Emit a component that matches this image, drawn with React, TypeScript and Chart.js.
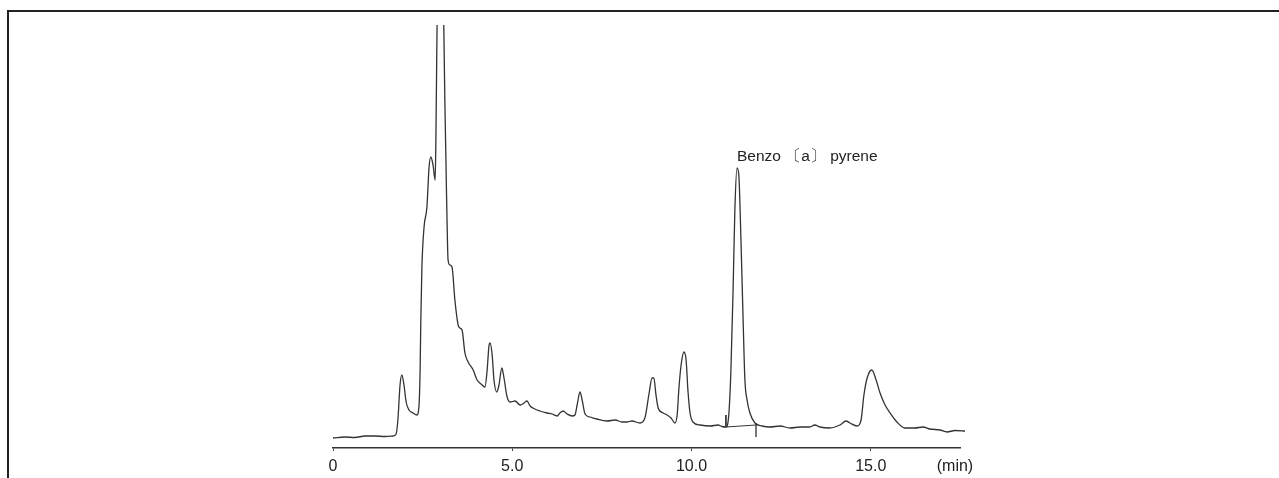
import { useEffect, useRef } from "react";
import { Chart, registerables } from "chart.js";

Chart.register(...registerables);

// Retention time (min) and detector signal (arbitrary units)
const timeMin = [
  0.0, 0.33, 0.61, 0.89, 1.17, 1.45, 1.67, 1.76, 1.81, 1.87, 1.92, 1.98, 2.04, 2.12, 2.23, 2.34,
  2.4, 2.43, 2.45, 2.48, 2.54, 2.62, 2.68, 2.73, 2.79, 2.85, 2.87, 2.91, 3.01, 3.08, 3.12, 3.17,
  3.21, 3.26, 3.32, 3.4, 3.49, 3.54, 3.6, 3.68, 3.77, 3.91, 4.02, 4.13, 4.24, 4.3, 4.35, 4.38,
  4.44, 4.49, 4.57, 4.63, 4.71, 4.77, 4.85, 4.94, 5.08, 5.22, 5.33, 5.41, 5.5, 5.63, 5.77, 5.97,
  6.11, 6.25, 6.33, 6.42, 6.53, 6.67, 6.75, 6.81, 6.89, 6.95, 7.03, 7.17, 7.36, 7.64, 7.87, 8.06,
  8.2, 8.34, 8.56, 8.7, 8.81, 8.9, 8.95, 9.01, 9.07, 9.21, 9.32, 9.43, 9.54, 9.6, 9.65, 9.71,
  9.79, 9.85, 9.9, 9.96, 10.04, 10.24, 10.52, 10.74, 10.85, 10.96, 11.04, 11.1, 11.16, 11.21, 11.27, 11.32,
  11.38, 11.44, 11.49, 11.55, 11.63, 11.77, 11.97, 12.19, 12.47, 12.75, 13.03, 13.3, 13.44, 13.58, 13.86, 14.14,
  14.31, 14.42, 14.62, 14.73, 14.81, 14.9, 15.03, 15.15, 15.26, 15.4, 15.54, 15.73, 15.95, 16.23, 16.46, 16.65,
  16.93, 17.13, 17.35, 17.63,
];
const signal = [
  10, 11, 10.5, 12, 12, 11.5, 12, 14, 28, 63, 73, 63, 46, 38, 35, 33,
  43, 78, 128, 181, 221, 241, 281, 291, 283, 268, 308, 448, 648, 448, 348, 248,
  188, 183, 181, 148, 123, 120, 118, 95, 86, 78, 68, 64, 61, 78, 102, 105,
  93, 68, 56, 63, 80, 70, 52, 46, 47, 43, 45, 47, 42, 39, 37, 35,
  34, 32, 35, 37, 34, 32, 33, 43, 56, 48, 34, 31, 29, 27, 28, 26,
  26, 27, 25, 30, 53, 70, 70, 53, 40, 35, 33, 30, 25, 33, 60, 83,
  96, 88, 58, 35, 26, 23, 22, 23, 21.5, 21, 33, 78, 158, 238, 280, 273,
  208, 128, 68, 48, 35, 25, 22, 21, 22, 20, 21, 21, 23, 21, 20, 23,
  27, 25, 22, 28, 53, 70, 78, 68, 55, 43, 35, 26, 20, 20, 21, 19,
  18, 16, 17.5, 17,
];

// Integration marks around the Benzo[a]pyrene peak
const markStartTime = [10.96, 10.96];
const markStartSignal = [33, 21];
const markBaseTime = [10.96, 11.8];
const markBaseSignal = [21, 23];
const markEndTime = [11.8, 11.8];
const markEndSignal = [25, 11];

const tickValues = [0, 5, 10, 15];
const tickLabels = ["0", "5.0", "10.0", "15.0"];
const unitLabel = "(min)";
const unitPosition = 17.35;

const peakLabel = "Benzo 〔a〕 pyrene";
const peakTime = 11.27;
const peakSignal = 280;

const FONT = '"Liberation Sans", Arial, Helvetica, sans-serif';

const toPoints = (xs: number[], ys: number[]) => xs.map((x, i) => ({ x, y: ys[i] }));

export default function App() {
  const canvasRef = useRef<HTMLCanvasElement | null>(null);

  useEffect(() => {
    const canvas = canvasRef.current;
    if (!canvas) return;

    const decor = {
      id: "decor",
      afterDraw(chart: any) {
        const ctx = chart.ctx as CanvasRenderingContext2D;
        ctx.save();
        ctx.strokeStyle = "#222";
        ctx.lineWidth = 2;
        ctx.beginPath();
        ctx.moveTo(8, 478);
        ctx.lineTo(8, 11);
        ctx.lineTo(1279, 11);
        ctx.stroke();
        const x = chart.scales.x.getPixelForValue(peakTime);
        const y = chart.scales.y.getPixelForValue(peakSignal);
        ctx.fillStyle = "#222";
        ctx.font = `15.5px ${FONT}`;
        ctx.textAlign = "left";
        ctx.textBaseline = "alphabetic";
        ctx.fillText(peakLabel, x, y - 7);
        ctx.restore();
      },
    };

    const lineStyle = {
      borderColor: "#333",
      borderWidth: 1.3,
      pointRadius: 0,
      tension: 0,
      fill: false,
    };

    const chart = new Chart(canvas, {
      type: "line",
      data: {
        datasets: [
          {
            ...lineStyle,
            cubicInterpolationMode: "monotone",
            label: "signal",
            data: toPoints(timeMin, signal),
            clip: { left: 5, top: 0, right: 8, bottom: 5 } as any,
          },
          { ...lineStyle, borderWidth: 1, label: "start", data: toPoints(markStartTime, markStartSignal) },
          { ...lineStyle, borderWidth: 1, label: "base", data: toPoints(markBaseTime, markBaseSignal) },
          { ...lineStyle, borderWidth: 1, borderColor: "#666", label: "end", data: toPoints(markEndTime, markEndSignal) },
        ],
      },
      options: {
        animation: false,
        responsive: false,
        devicePixelRatio: 1,
        layout: { padding: { left: 333, right: 319, top: 25, bottom: 4 } },
        plugins: { legend: { display: false }, tooltip: { enabled: false } },
        scales: {
          x: {
            type: "linear",
            min: 0,
            max: 17.49,
            afterBuildTicks: (axis: any) => {
              axis.ticks = [...tickValues, unitPosition].map((v) => ({ value: v }));
            },
            afterFit: (axis: any) => {
              axis.height = 26;
            },
            ticks: {
              autoSkip: false,
              maxRotation: 0,
              color: "#222",
              padding: 6,
              font: { family: FONT, size: 16 },
              callback: (v: any) => {
                const i = tickValues.indexOf(Number(v));
                if (i >= 0) return tickLabels[i];
                return Number(v) === unitPosition ? unitLabel : "";
              },
            },
            grid: {
              drawOnChartArea: false,
              drawTicks: true,
              tickLength: 3,
              tickColor: (ctx: any) =>
                ctx.tick && ctx.tick.value === unitPosition ? "rgba(0,0,0,0)" : "#444",
            },
            border: { display: true, color: "#333", width: 1.5 },
          },
          y: { display: false, min: 0, max: 423 },
        },
      },
      plugins: [decor],
    });

    return () => chart.destroy();
  }, []);

  return (
    <div style={{ position: "absolute", left: 0, top: 0, width: 1279, height: 478, background: "#fff" }}>
      <canvas ref={canvasRef} width={1279} height={478} style={{ display: "block" }} />
    </div>
  );
}
